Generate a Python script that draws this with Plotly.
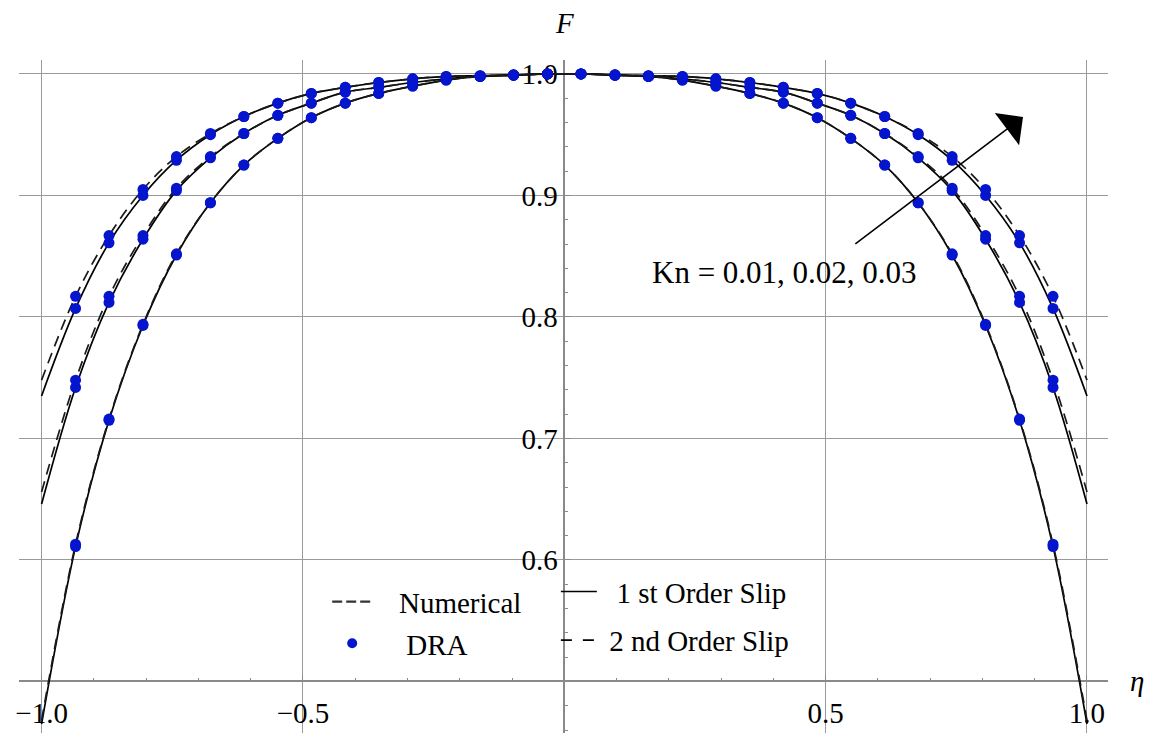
import plotly.graph_objects as go

# ---------------- data ----------------
eta = [-1.0, -0.935, -0.871, -0.806, -0.742, -0.677, -0.613, -0.548, -0.484, -0.419,
       -0.355, -0.290, -0.226, -0.161, -0.097, -0.032,
       0.032, 0.097, 0.161, 0.226, 0.290, 0.355, 0.419, 0.484, 0.548, 0.613,
       0.677, 0.742, 0.806, 0.871, 0.935, 1.0]

# Kn = 0.01
F_kn1_first = [0.465, 0.611, 0.715, 0.793, 0.851, 0.894, 0.925, 0.947, 0.964, 0.976,
               0.984, 0.990, 0.995, 0.998, 0.999, 1.000,
               1.000, 0.999, 0.998, 0.995, 0.990, 0.984, 0.976, 0.964, 0.947, 0.925,
               0.894, 0.851, 0.793, 0.715, 0.611, 0.465]
F_kn1_second = [0.468, 0.613, 0.716, 0.794, 0.852, 0.894, 0.925, 0.947, 0.964, 0.976,
                0.984, 0.990, 0.995, 0.998, 0.999, 1.000,
                1.000, 0.999, 0.998, 0.995, 0.990, 0.984, 0.976, 0.964, 0.947, 0.925,
                0.894, 0.852, 0.794, 0.716, 0.613, 0.468]
# Kn = 0.02
F_kn2_first = [0.646, 0.742, 0.812, 0.864, 0.904, 0.931, 0.951, 0.966, 0.976, 0.985,
               0.989, 0.993, 0.996, 0.998, 0.999, 1.000,
               1.000, 0.999, 0.998, 0.996, 0.993, 0.989, 0.985, 0.976, 0.966, 0.951,
               0.931, 0.904, 0.864, 0.812, 0.742, 0.646]
F_kn2_second = [0.656, 0.748, 0.817, 0.867, 0.906, 0.932, 0.951, 0.966, 0.976, 0.985,
                0.989, 0.993, 0.996, 0.998, 0.999, 1.000,
                1.000, 0.999, 0.998, 0.996, 0.993, 0.989, 0.985, 0.976, 0.966, 0.951,
                0.932, 0.906, 0.867, 0.817, 0.748, 0.656]
# Kn = 0.03
F_kn3_first = [0.735, 0.807, 0.861, 0.900, 0.929, 0.950, 0.965, 0.976, 0.984, 0.989,
               0.993, 0.996, 0.998, 0.9986, 0.9993, 1.000,
               1.000, 0.9993, 0.9986, 0.998, 0.996, 0.993, 0.989, 0.984, 0.976, 0.965,
               0.950, 0.929, 0.900, 0.861, 0.807, 0.735]
F_kn3_second = [0.748, 0.817, 0.867, 0.905, 0.932, 0.951, 0.965, 0.976, 0.984, 0.989,
                0.993, 0.996, 0.998, 0.9986, 0.9993, 1.000,
                1.000, 0.9993, 0.9986, 0.998, 0.996, 0.993, 0.989, 0.984, 0.976, 0.965,
                0.951, 0.932, 0.905, 0.867, 0.817, 0.748]

x_tick_vals = [-1.0, -0.5, 0.5, 1.0]
x_tick_text = ["\u22121.0", "\u22120.5", "0.5", "1.0"]
y_tick_vals = [0.6, 0.7, 0.8, 0.9, 1.0]
y_tick_text = ["0.6", "0.7", "0.8", "0.9", "1.0"]

kn_label = "Kn = 0.01, 0.02, 0.03"
legend_names = ["Numerical", "DRA", "1 st Order Slip", "2 nd Order Slip"]

# ---------------- styling ----------------
SERIF = "Liberation Serif, Times New Roman, serif"
BLUE = "rgb(5,20,205)"
DASH = "11px,7px"
NB = "\u00a0"

firsts = [F_kn1_first, F_kn2_first, F_kn3_first]
seconds = [F_kn1_second, F_kn2_second, F_kn3_second]

fig = go.Figure()

for F in firsts:
    fig.add_trace(go.Scatter(x=eta, y=F, mode="lines", line=dict(color="black", width=1.7, shape="spline"),
                             showlegend=False, hoverinfo="skip"))
for F in seconds:
    fig.add_trace(go.Scatter(x=eta, y=F, mode="lines",
                             line=dict(color="#1a1a1a", width=1.7, dash=DASH, shape="spline"),
                             showlegend=False, hoverinfo="skip"))
for F in firsts + seconds:
    fig.add_trace(go.Scatter(x=eta[1:-1], y=F[1:-1], mode="markers",
                             marker=dict(color=BLUE, size=11), showlegend=False, hoverinfo="skip"))

# legend entries
fig.add_trace(go.Scatter(x=[None], y=[None], mode="lines", name=NB * 3 + legend_names[0],
                         line=dict(color="#333333", width=2.2, dash="10px,4px"),
                         legend="legend", legendgroup="a"))
fig.add_trace(go.Scatter(x=[None], y=[None], mode="markers", name=NB * 4 + legend_names[1],
                         marker=dict(color=BLUE, size=10), legend="legend", legendgroup="b"))
fig.add_trace(go.Scatter(x=[None], y=[None], mode="lines", name=NB * 2 + legend_names[2],
                         line=dict(color="black", width=1.6), legend="legend2", legendgroup="c"))
fig.add_trace(go.Scatter(x=[None], y=[None], mode="lines", name=NB + legend_names[3],
                         line=dict(color="black", width=1.6, dash="11px,11px"), legend="legend2",
                         legendgroup="d"))

x_range = [-1.0432, 1.0402]
y_range = [0.4576, 1.0115]
y_axis_pos = (0 - x_range[0]) / (x_range[1] - x_range[0])
x_axis_pos = (0.5 - y_range[0]) / (y_range[1] - y_range[0])

fig.update_layout(
    width=1153, height=733,
    margin=dict(l=19, r=45, t=60, b=0),
    paper_bgcolor="white", plot_bgcolor="white",
    font=dict(family=SERIF, size=29, color="black"),
    xaxis=dict(range=x_range, anchor="free", position=x_axis_pos,
               tickmode="array", tickvals=x_tick_vals, ticktext=x_tick_text,
               showgrid=True, gridcolor="#9a9a9a", gridwidth=1, zeroline=False,
               showline=True, linecolor="#8a8a8a", linewidth=1.5,
               ticks="inside", ticklen=6, tickcolor="#8a8a8a", ticklabelstandoff=6,
               minor=dict(dtick=0.1, tick0=0, ticks="inside", ticklen=3, tickcolor="#8a8a8a", showgrid=False),
               tickfont=dict(family=SERIF, size=29), layer="below traces", automargin=False,
               fixedrange=True),
    yaxis=dict(range=y_range, anchor="free", position=y_axis_pos,
               tickmode="array", tickvals=y_tick_vals, ticktext=y_tick_text,
               showgrid=True, gridcolor="#9a9a9a", gridwidth=1, zeroline=False,
               showline=True, linecolor="#8a8a8a", linewidth=1.5,
               ticks="inside", ticklen=6, tickcolor="#8a8a8a",
               minor=dict(dtick=0.02, tick0=0, ticks="inside", ticklen=3, tickcolor="#8a8a8a", showgrid=False),
               tickfont=dict(family=SERIF, size=29), layer="below traces", automargin=False,
               fixedrange=True),
    legend=dict(x=0.283, y=0.233, xanchor="left", yanchor="top", bgcolor="rgba(0,0,0,0)",
                font=dict(family=SERIF, size=29), tracegroupgap=1, itemwidth=40),
    legend2=dict(x=0.493, y=0.248, xanchor="left", yanchor="top", bgcolor="rgba(0,0,0,0)",
                 font=dict(family=SERIF, size=29), tracegroupgap=8, itemwidth=36),
    showlegend=True,
)

fig.add_annotation(x=0.8776, y=0.9646, ax=0.554, ay=0.8593, xref="x", yref="y", axref="x", ayref="y",
                   text="", showarrow=True, arrowhead=1, arrowsize=4.2, arrowwidth=1.6,
                   arrowcolor="black", standoff=0, startstandoff=0)
fig.add_annotation(x=0.422, y=0.837, xref="x", yref="y", text=kn_label, showarrow=False,
                   font=dict(family=SERIF, size=31, color="black"))
fig.add_annotation(x=0.0, y=1.055, xref="x", yref="paper", yanchor="middle", text="<i>F</i>",
                   showarrow=False, font=dict(family=SERIF, size=29, color="black"))
fig.add_annotation(x=1.0, y=0.5, xref="paper", yref="y", xanchor="left", xshift=20,
                   text="<i>\u03b7</i>", showarrow=False,
                   font=dict(family=SERIF, size=29, color="black"))

fig.write_html("out.html")
